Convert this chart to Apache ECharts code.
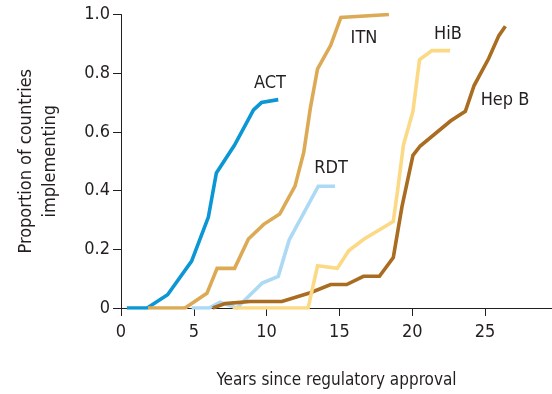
<!DOCTYPE html>
<html>
<head>
<meta charset="utf-8">
<script src="https://cdn.jsdelivr.net/npm/echarts@6/dist/echarts.min.js"></script>
<style>
  html, body { margin: 0; padding: 0; background: #fff; }
  #chart { width: 552px; height: 394px; }
</style>
</head>
<body>
<div id="chart"></div>
<script>
// Uptake curves: [years since regulatory approval, proportion of countries implementing]
const ACT = [[0.4,0],[1.8,0],[3.2,0.045],[4.85,0.16],[6.0,0.31],[6.55,0.46],[7.8,0.555],[9.1,0.675],[9.65,0.70],[10.8,0.71]];
const ITN = [[1.85,0],[4.4,0],[5.9,0.05],[6.6,0.135],[7.8,0.135],[8.75,0.235],[9.8,0.285],[10.9,0.32],[11.95,0.415],[12.55,0.53],[13.0,0.68],[13.5,0.815],[14.4,0.895],[15.1,0.99],[18.4,1.0]];
const RDT = [[4.85,0],[6.05,0],[6.8,0.02],[7.95,0],[9.7,0.085],[10.8,0.108],[11.55,0.232],[13.55,0.415],[14.7,0.415]];
const HEPB = [[6.3,0],[7.15,0.015],[8.85,0.022],[11.05,0.022],[13.0,0.052],[14.4,0.08],[15.5,0.08],[16.65,0.108],[17.75,0.108],[18.7,0.172],[19.3,0.346],[20.05,0.52],[20.55,0.552],[22.65,0.638],[23.65,0.67],[24.25,0.758],[25.25,0.85],[25.95,0.928],[26.4,0.96]];
const HIB = [[7.7,0],[12.85,0],[13.5,0.144],[14.85,0.135],[15.65,0.196],[16.7,0.235],[18.7,0.295],[19.0,0.402],[19.4,0.556],[20.05,0.67],[20.5,0.846],[21.35,0.877],[22.6,0.877]];

const xTicks = [0, 5, 10, 15, 20, 25];
const yTickLabels = ['0', '0.2', '0.4', '0.6', '0.8', '1.0'];

const FONT = '"DejaVu Sans Condensed", "Liberation Sans Narrow", "Arial Narrow", sans-serif';
const INK = '#231f20';

const curves = [
  { name: 'ACT',   data: ACT,  color: '#0b96d4' },
  { name: 'ITN',   data: ITN,  color: '#dcaa55' },
  { name: 'RDT',   data: RDT,  color: '#acd9f4' },
  { name: 'Hep B', data: HEPB, color: '#a96c20' },
  { name: 'HiB',   data: HIB,  color: '#fbd985' }
];

// Series name tags placed beside each curve
const tags = [
  { text: 'ACT',   x: 270, y: 83 },
  { text: 'ITN',   x: 364, y: 38 },
  { text: 'RDT',   x: 331, y: 168 },
  { text: 'HiB',   x: 448, y: 34 },
  { text: 'Hep B', x: 505, y: 100 }
];

const chart = echarts.init(document.getElementById('chart'), null, { renderer: 'canvas' });

chart.setOption({
  animation: false,
  backgroundColor: '#ffffff',
  grid: { left: 121, top: 14.5, right: 0, bottom: 86, containLabel: false },
  xAxis: {
    type: 'value',
    min: 0, max: 29.6, interval: 5,
    name: 'Years since regulatory approval',
    nameLocation: 'middle',
    nameGap: 64,
    nameTextStyle: { fontFamily: FONT, fontSize: 17, color: INK },
    axisLine: { onZero: false, lineStyle: { color: INK, width: 1 } },
    axisTick: { show: true, length: 8, lineStyle: { color: INK } },
    axisLabel: {
      margin: 15, fontFamily: FONT, fontSize: 18, color: INK,
      showMaxLabel: false,
      formatter: v => (xTicks.indexOf(v) >= 0 ? String(v) : '')
    },
    splitLine: { show: false }
  },
  yAxis: {
    type: 'value',
    min: 0, max: 1, interval: 0.2,
    name: 'Proportion of countries\nimplementing',
    nameLocation: 'middle',
    nameGap: 59,
    nameRotate: 90,
    nameTextStyle: { fontFamily: FONT, fontSize: 18, color: INK, lineHeight: 24 },
    axisLine: { show: true, lineStyle: { color: INK, width: 1 } },
    axisTick: { show: true, length: 8, lineStyle: { color: INK } },
    axisLabel: {
      margin: 11, fontFamily: FONT, fontSize: 18, color: INK,
      formatter: v => yTickLabels[Math.round(v / 0.2)]
    },
    splitLine: { show: false }
  },
  series: curves.map(c => ({
    name: c.name,
    type: 'line',
    data: c.data,
    showSymbol: false,
    symbol: 'none',
    lineStyle: { color: c.color, width: 3.6, join: 'miter', cap: 'butt' },
    itemStyle: { color: c.color }
  })),
  graphic: tags.map(t => ({
    type: 'text',
    x: t.x, y: t.y,
    style: {
      text: t.text,
      fill: INK,
      font: '18px ' + FONT,
      textAlign: 'center',
      textVerticalAlign: 'middle'
    }
  }))
});
</script>
</body>
</html>
